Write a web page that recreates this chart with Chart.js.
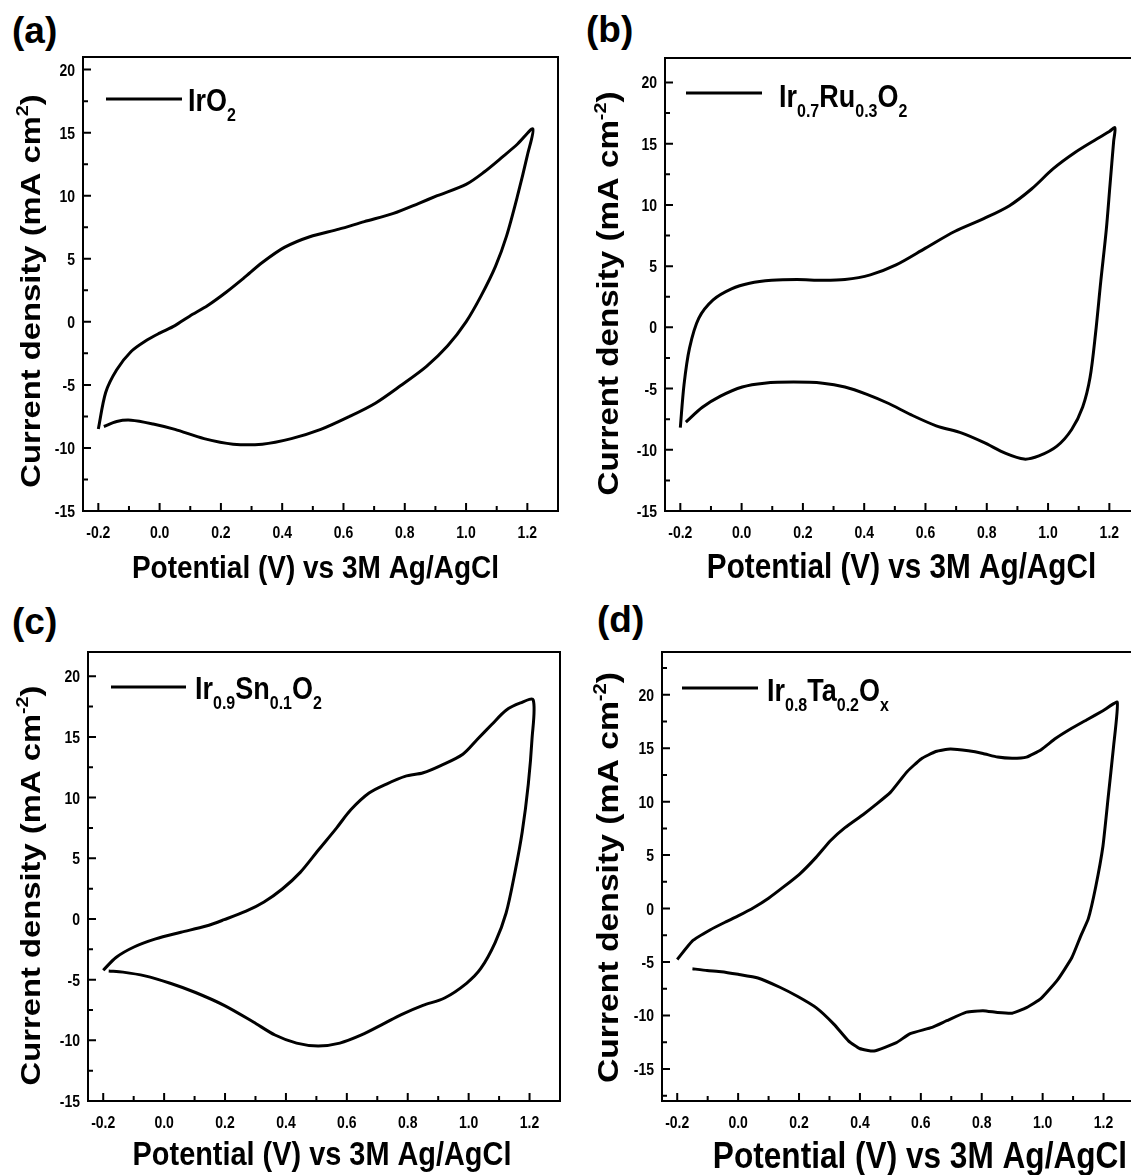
<!DOCTYPE html>
<html>
<head>
<meta charset="utf-8">
<script src="https://cdn.jsdelivr.net/npm/chart.js@4.4.0/dist/chart.umd.min.js"></script>
<style>
  html, body { margin: 0; padding: 0; background: #fff; width: 1131px; height: 1175px; overflow: hidden; }
  canvas { position: absolute; }
  .tag { position: absolute; font: bold 37px "Liberation Sans", Arial, sans-serif; line-height: 1; color: #000; }
</style>
</head>
<body>
<div class="tag" id="tagA" style="left:12px;top:12px"></div>
<div class="tag" id="tagB" style="left:586px;top:11px"></div>
<div class="tag" id="tagC" style="left:12px;top:603px"></div>
<div class="tag" id="tagD" style="left:597px;top:601px"></div>

<canvas id="chartA" width="561" height="533" style="left:0px;top:54px"></canvas>
<canvas id="chartB" width="565" height="532" style="left:578px;top:55px"></canvas>
<canvas id="chartC" width="563" height="525" style="left:0px;top:649px"></canvas>
<canvas id="chartD" width="559" height="528" style="left:578px;top:649px"></canvas>

<script>
/* ---------- DATA ---------- */
const panelTags = ["(a)", "(b)", "(c)", "(d)"];
const xTitle = "Potential (V) vs 3M Ag/AgCl";

// (a) IrO2 : anodic sweep then cathodic sweep
const aPot = [-0.2, -0.176, -0.14, -0.093, -0.045, 0.0, 0.05, 0.098, 0.157, 0.217, 0.276, 0.335, 0.407, 0.49, 0.585, 0.668, 0.763, 0.846, 0.906, 1.0, 1.06, 1.12, 1.168, 1.218,
              1.2, 1.168, 1.132, 1.096, 1.049, 1.0, 0.94, 0.87, 0.787, 0.704, 0.62, 0.526, 0.43, 0.335, 0.24, 0.145, 0.05, -0.021, -0.093, -0.14, -0.182];
const aCur = [-8.5, -5.6, -3.8, -2.35, -1.5, -0.9, -0.3, 0.45, 1.3, 2.35, 3.5, 4.7, 5.9, 6.75, 7.35, 7.95, 8.6, 9.4, 10.0, 10.9, 11.9, 13.1, 14.1, 15.3,
              13.2, 10.0, 6.8, 4.4, 2.06, 0, -1.9, -3.55, -5.05, -6.45, -7.5, -8.53, -9.26, -9.7, -9.7, -9.26, -8.53, -8.1, -7.8, -7.9, -8.3];

// (b) Ir0.7Ru0.3O2
const bPot = [-0.2, -0.188, -0.17, -0.14, -0.093, -0.033, 0.026, 0.098, 0.181, 0.265, 0.337, 0.42, 0.504, 0.6, 0.695, 0.79, 0.874, 0.946, 1.017, 1.089, 1.16, 1.2, 1.218,
              1.214, 1.202, 1.19, 1.172, 1.155, 1.137, 1.113, 1.077, 1.029, 0.97, 0.922, 0.862, 0.79, 0.719, 0.635, 0.552, 0.48, 0.409, 0.337, 0.265, 0.17, 0.074, 0.002, -0.069, -0.128, -0.182];
const bCur = [-8.19, -4.7, -1.7, 0.73, 2.24, 3.14, 3.6, 3.84, 3.9, 3.84, 3.9, 4.29, 5.1, 6.47, 7.83, 8.88, 9.94, 11.3, 12.96, 14.3, 15.4, 16.0, 16.3,
              15.2, 11.6, 7.98, 3.75, -0.48, -4.1, -6.5, -8.34, -9.7, -10.5, -10.76, -10.3, -9.4, -8.64, -8.04, -7.13, -6.22, -5.47, -4.87, -4.56, -4.47, -4.56, -4.87, -5.62, -6.53, -7.74];

// (c) Ir0.9Sn0.1O2
const cPot = [-0.2, -0.158, -0.099, -0.028, 0.055, 0.138, 0.197, 0.269, 0.328, 0.388, 0.447, 0.506, 0.566, 0.613, 0.673, 0.732, 0.791, 0.851, 0.91, 0.981, 1.028, 1.075, 1.123, 1.17, 1.212,
              1.208, 1.196, 1.176, 1.152, 1.123, 1.087, 1.04, 0.993, 0.921, 0.85, 0.779, 0.72, 0.648, 0.577, 0.506, 0.435, 0.364, 0.293, 0.197, 0.103, 0.02, -0.063, -0.135, -0.182];
const cCur = [-4.23, -3.17, -2.31, -1.64, -1.1, -0.58, -0.06, 0.64, 1.4, 2.47, 3.84, 5.66, 7.49, 9.0, 10.38, 11.14, 11.75, 12.05, 12.66, 13.58, 14.79, 16.0, 17.2, 17.8, 18.05,
              14.8, 11.14, 7.18, 3.84, 0.49, -1.95, -4.08, -5.3, -6.51, -7.12, -7.88, -8.65, -9.56, -10.23, -10.47, -10.23, -9.56, -8.49, -7.12, -6.06, -5.3, -4.69, -4.38, -4.29];

// (d) Ir0.8Ta0.2Ox
const dPot = [-0.2, -0.15, -0.091, -0.043, 0.0, 0.052, 0.1, 0.148, 0.202, 0.256, 0.303, 0.351, 0.41, 0.452, 0.5, 0.554, 0.601, 0.649, 0.697, 0.756, 0.804, 0.852, 0.9, 0.947, 0.995, 1.042, 1.09, 1.144, 1.198, 1.245,
              1.233, 1.215, 1.198, 1.174, 1.15, 1.126, 1.096, 1.049, 0.995, 0.947, 0.9, 0.852, 0.804, 0.75, 0.685, 0.637, 0.565, 0.518, 0.446, 0.399, 0.363, 0.315, 0.256, 0.196, 0.137, 0.065, 0.0, -0.055, -0.102, -0.15];
const dCur = [-4.76, -3.02, -1.98, -1.28, -0.69, 0.1, 0.97, 2.0, 3.23, 4.79, 6.35, 7.57, 8.78, 9.72, 10.87, 12.78, 14.0, 14.69, 14.93, 14.76, 14.51, 14.17, 14.06, 14.17, 14.86, 15.9, 16.77, 17.64, 18.5, 19.3,
              15.2, 10.35, 5.83, 2.0, -0.94, -2.5, -4.58, -6.67, -8.4, -9.27, -9.79, -9.72, -9.55, -9.69, -10.49, -11.11, -11.7, -12.57, -13.33, -13.09, -12.4, -10.83, -9.27, -8.23, -7.36, -6.49, -6.15, -5.9, -5.8, -5.63];

/* ---------- STYLE ---------- */
const FONT = '"Liberation Sans", Arial, sans-serif';
const S = 1.15;   // the lettering of the original is a bit taller than wide
Chart.defaults.font.family = FONT;
Chart.defaults.font.weight = "bold";
Chart.defaults.color = "#000";

/* ---------- text helper: parts = [[text, 0 normal | 1 sup | -1 sub], ...] ---------- */
function drawParts(ctx, parts, x, y, o){
  ctx.save();
  ctx.translate(x, y);
  ctx.scale(1, S);
  if(o.rotate) ctx.rotate(-Math.PI / 2);
  ctx.fillStyle = "#000";
  ctx.textAlign = "left";
  ctx.textBaseline = "alphabetic";
  const fontOf = m => `bold ${m === 0 ? o.size : o.small}px ${FONT}`;
  let total = 0;
  parts.forEach(([t, m]) => { ctx.font = fontOf(m); total += ctx.measureText(t).width; });
  let cx = o.align === "center" ? -total / 2 : o.align === "right" ? -total : 0;
  parts.forEach(([t, m]) => {
    ctx.font = fontOf(m);
    const dy = m === 1 ? -o.raise : m === -1 ? o.drop : 0;
    ctx.fillText(t, cx, dy);
    cx += ctx.measureText(t).width;
  });
  ctx.restore();
}

/* ---------- Plugin: closed frame + inward major/minor ticks ---------- */
const frameTicks = {
  id: "frameTicks",
  afterDatasetsDraw(chart){
    const {ctx, chartArea: ca, scales: {x, y}} = chart;
    ctx.save();
    ctx.strokeStyle = "#000";
    ctx.lineWidth = 2;
    ctx.strokeRect(ca.left, ca.top, ca.right - ca.left, ca.bottom - ca.top);

    const inside = (s, v) => v > s.min + 1e-6 && v < s.max - 1e-6;
    const majorsX = x.ticks.map(t => t.value), majorsY = y.ticks.map(t => t.value);
    const stepX = majorsX[1] - majorsX[0], stepY = majorsY[1] - majorsY[0];
    const minorsX = [], minorsY = [];
    for(let i = -1; i < majorsX.length; i++){ const v = majorsX[0] + (i + 0.5) * stepX; if(inside(x, v)) minorsX.push(v); }
    for(let i = -1; i < majorsY.length; i++){ const v = majorsY[0] + (i + 0.5) * stepY; if(inside(y, v)) minorsY.push(v); }

    ctx.beginPath();
    majorsX.forEach(v => { const p = x.getPixelForValue(v); ctx.moveTo(p, ca.bottom); ctx.lineTo(p, ca.bottom - 8); });
    minorsX.forEach(v => { const p = x.getPixelForValue(v); ctx.moveTo(p, ca.bottom); ctx.lineTo(p, ca.bottom - 5); });
    majorsY.forEach(v => { const p = y.getPixelForValue(v); ctx.moveTo(ca.left, p); ctx.lineTo(ca.left + 8, p); });
    minorsY.forEach(v => { const p = y.getPixelForValue(v); ctx.moveTo(ca.left, p); ctx.lineTo(ca.left + 5, p); });
    ctx.stroke();

    // tick labels taken from the library's tick list
    majorsX.forEach(v => drawParts(ctx, [[v.toFixed(1), 0]], x.getPixelForValue(v), ca.bottom + 27, {size: 14, align: "center"}));
    majorsY.forEach(v => drawParts(ctx, [[String(v), 0]], ca.left - 8, y.getPixelForValue(v) + 6, {size: 14, align: "right"}));
    ctx.restore();
  }
};

/* ---------- Plugin: axis titles + legend (with super/sub-scripts) ---------- */
const letters = {
  id: "letters",
  afterDraw(chart, args, o){
    const {ctx, chartArea: ca} = chart;
    const midX = (ca.left + ca.right) / 2, midY = (ca.top + ca.bottom) / 2;
    // x title
    drawParts(ctx, [[xTitle, 0]], midX + o.xt.dx, ca.bottom + o.xt.dy, {size: o.xt.size, align: "center"});
    // y title (rotated)
    drawParts(ctx, o.yt.parts, ca.left - o.yt.dx, midY + o.yt.dy,
              {size: o.yt.size, small: o.yt.size * 0.6, raise: o.yt.size * 0.42, align: "center", rotate: true});
    // legend
    const lg = o.legend;
    ctx.save();
    ctx.strokeStyle = "#000";
    ctx.lineWidth = 3;
    ctx.beginPath();
    ctx.moveTo(ca.left + lg.x1, ca.top + lg.ly);
    ctx.lineTo(ca.left + lg.x2, ca.top + lg.ly);
    ctx.stroke();
    ctx.restore();
    drawParts(ctx, lg.parts, ca.left + lg.tx, ca.top + lg.base, {size: 27, small: 16, drop: 8.5, align: "left"});
  }
};

/* ---------- Chart builder ---------- */
function makeChart(id, pot, cur, cfg){
  const pts = pot.map((v, i) => ({x: v, y: cur[i]}));
  const noPad = s => { s.paddingTop = 0; s.paddingBottom = 0; s.paddingLeft = 0; s.paddingRight = 0; };
  return new Chart(document.getElementById(id), {
    type: "scatter",
    data: {
      datasets: [{
        data: pts,
        showLine: true,
        borderColor: "#000",
        borderWidth: 3,
        pointRadius: 0,
        tension: cfg.tension,
        fill: false
      }]
    },
    options: {
      responsive: false,
      animation: false,
      layout: {padding: {top: 3, right: 3, left: 0, bottom: 0}},
      plugins: {
        legend: {display: false},
        tooltip: {enabled: false},
        letters: {xt: cfg.xt, yt: cfg.yt, legend: cfg.legend}
      },
      scales: {
        x: {
          type: "linear", min: -0.25, max: 1.3,
          grid: {display: false}, border: {display: false},
          ticks: {stepSize: 0.2, includeBounds: false, display: false},
          afterFit: s => { s.height = cfg.xH; noPad(s); }
        },
        y: {
          type: "linear", min: cfg.yMin, max: cfg.yMax,
          grid: {display: false}, border: {display: false},
          ticks: {stepSize: 5, includeBounds: false, display: false},
          afterFit: s => { s.width = cfg.yW; noPad(s); }
        }
      }
    },
    plugins: [frameTicks, letters]
  });
}

/* ---------- Render ---------- */
["tagA", "tagB", "tagC", "tagD"].forEach((id, i) => { document.getElementById(id).textContent = panelTags[i]; });

const yPartsA = [["Current density (mA cm", 0], ["2", 1], [")", 0]];
const yPartsM = [["Current density (mA cm", 0], ["-2", 1], [")", 0]];

makeChart("chartA", aPot, aCur, {
  yMin: -15, yMax: 21, yW: 83, xH: 76, tension: 0.3,
  xt: {size: 28, dx: -5, dy: 67},
  yt: {size: 28.5, parts: yPartsA, dx: 43, dy: 7},
  legend: {x1: 23, x2: 99, ly: 42, tx: 105, base: 54,
           parts: [["IrO", 0], ["2", -1]]}
});
makeChart("chartB", bPot, bCur, {
  yMin: -15, yMax: 22, yW: 87, xH: 76, tension: 0.3,
  xt: {size: 29.7, dx: -1, dy: 67},
  yt: {size: 28.8, parts: yPartsM, dx: 47, dy: 9},
  legend: {x1: 21, x2: 97, ly: 35, tx: 114, base: 49,
           parts: [["Ir", 0], ["0.7", -1], ["Ru", 0], ["0.3", -1], ["O", 0], ["2", -1]]}
});
makeChart("chartC", cPot, cCur, {
  yMin: -15, yMax: 22, yW: 88, xH: 73, tension: 0.3,
  xt: {size: 28.9, dx: -2, dy: 64},
  yt: {size: 28.5, parts: yPartsM, dx: 48, dy: 9},
  legend: {x1: 23, x2: 98, ly: 35, tx: 107, base: 47,
           parts: [["Ir", 0], ["0.9", -1], ["Sn", 0], ["0.1", -1], ["O", 0], ["2", -1]]}
});
makeChart("chartD", dPot, dCur, {
  yMin: -18, yMax: 24, yW: 84, xH: 76, tension: 0.15,
  xt: {size: 31.6, dx: 22, dy: 67},
  yt: {size: 29.3, parts: yPartsM, dx: 44, dy: 1},
  legend: {x1: 20, x2: 96, ly: 36, tx: 105, base: 49,
           parts: [["Ir", 0], ["0.8", -1], ["Ta", 0], ["0.2", -1], ["O", 0], ["x", -1]]}
});
</script>
</body>
</html>
